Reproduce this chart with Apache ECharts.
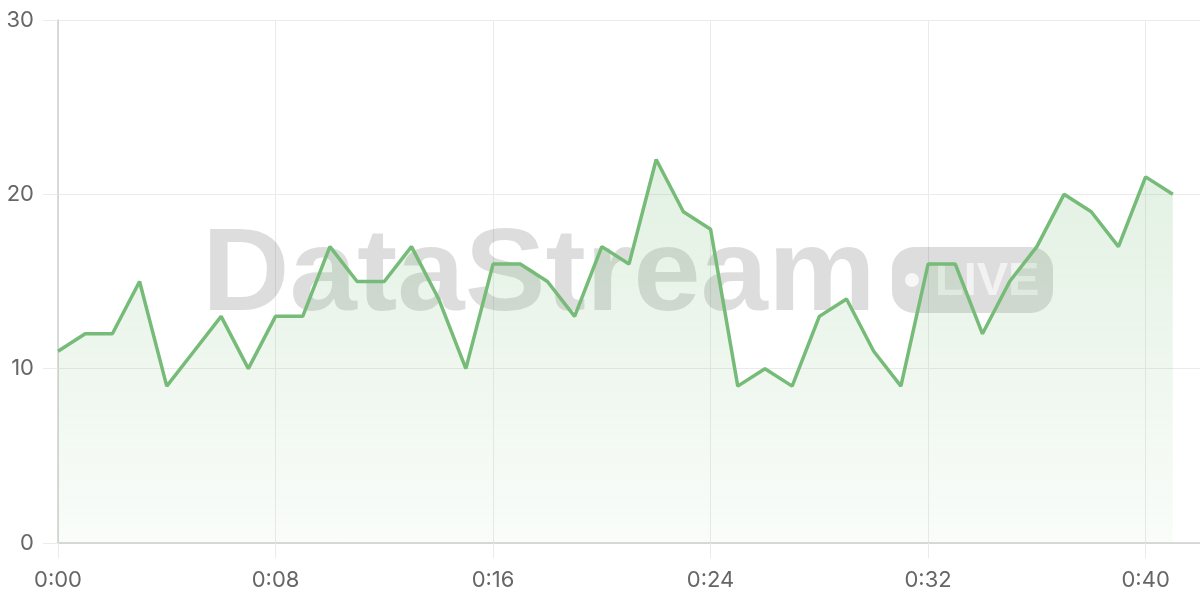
<!DOCTYPE html>
<html>
<head>
<meta charset="utf-8">
<style>
    html, body {margin:0;padding:0;background:#ffffff;}
    #chart {width:1200px;height:600px;}
</style>
<script src="https://cdn.jsdelivr.net/npm/echarts@6/dist/echarts.min.js"></script>
</head>
<body>
<div id="chart"></div>
<script>
    // minute labels, 0:00 .. 0:42 (axis runs one slot past the last sample)
    var minutes = [
        '0:00','0:01','0:02','0:03','0:04','0:05','0:06','0:07','0:08','0:09',
        '0:10','0:11','0:12','0:13','0:14','0:15','0:16','0:17','0:18','0:19',
        '0:20','0:21','0:22','0:23','0:24','0:25','0:26','0:27','0:28','0:29',
        '0:30','0:31','0:32','0:33','0:34','0:35','0:36','0:37','0:38','0:39',
        '0:40','0:41','0:42'
    ];
    // samples per minute
    var counts = [
        11, 12, 12, 15, 9, 11, 13, 10, 13, 13,
        17, 15, 15, 17, 14, 10, 16, 16, 15, 13,
        17, 16, 22, 19, 18, 9, 10, 9, 13, 14,
        11, 9, 16, 16, 12, 15, 17, 20, 19, 17,
        21, 20
    ];
    var yTicks = {min: 0, max: 30, step: 10};

    var lineColor = '#76bb78';
    var gridColor = '#ebebeb';
    var axisColor = '#cfcfcf';
    var labelFont = 'Inter';

    var chart = echarts.init(document.getElementById('chart'));

    var option = {
        animation: false,
        grid: {
            left: 58,
            right: 0,
            top: 20,
            bottom: 57
        },
        graphic: [
            {
                type: 'text',
                z: 1,
                x: 202,
                y: 278,
                scaleX: 1.045,
                silent: true,
                style: {
                    text: 'DataStream',
                    font: 'bold 116px "Liberation Sans", Arial, sans-serif',
                    fill: 'rgba(0,0,0,0.135)',
                    textAlign: 'left',
                    textVerticalAlign: 'middle'
                }
            },
            {
                type: 'group',
                z: 1,
                silent: true,
                children: [
                    {
                        type: 'rect',
                        z: 1,
                        shape: {x: 892, y: 247, width: 161, height: 66, r: 22},
                        style: {fill: 'rgba(0,0,0,0.135)'}
                    },
                    {
                        type: 'circle',
                        z: 1,
                        shape: {cx: 912, cy: 280, r: 7},
                        style: {fill: 'rgba(255,255,255,0.75)'}
                    },
                    {
                        type: 'text',
                        z: 1,
                        x: 935,
                        y: 282,
                        style: {
                            text: 'LIVE',
                            font: 'bold 47px "Liberation Sans", Arial, sans-serif',
                            fill: 'rgba(255,255,255,0.6)',
                            textAlign: 'left',
                            textVerticalAlign: 'middle'
                        }
                    }
                ]
            }
        ],
        xAxis: {
            type: 'category',
            boundaryGap: false,
            data: minutes,
            axisLine: {lineStyle: {color: axisColor, width: 1.5}},
            axisTick: {show: true, interval: 7, length: 15, lineStyle: {color: gridColor}},
            axisLabel: {interval: 7, color: '#666', fontSize: 22, fontFamily: labelFont, margin: 26},
            splitLine: {show: true, interval: 7, lineStyle: {color: gridColor}}
        },
        yAxis: {
            type: 'value',
            min: yTicks.min,
            max: yTicks.max,
            interval: yTicks.step,
            axisLine: {show: true, lineStyle: {color: axisColor, width: 1.5}},
            axisTick: {show: true, length: 15, lineStyle: {color: gridColor}},
            axisLabel: {color: '#666', fontSize: 22, fontFamily: labelFont, margin: 24},
            splitLine: {show: true, lineStyle: {color: gridColor}}
        },
        series: [
            {
                type: 'line',
                data: counts,
                symbol: 'none',
                smooth: false,
                z: 3,
                lineStyle: {color: lineColor, width: 3.5},
                areaStyle: {
                    color: new echarts.graphic.LinearGradient(0, 0, 0, 1, [
                        {offset: 0, color: 'rgba(118,187,120,0.30)'},
                        {offset: 1, color: 'rgba(118,187,120,0.06)'}
                    ])
                }
            }
        ]
    };

    chart.setOption(option);

    window.onresize = function () {
        chart.resize();
    };
</script>
</body>
</html>
